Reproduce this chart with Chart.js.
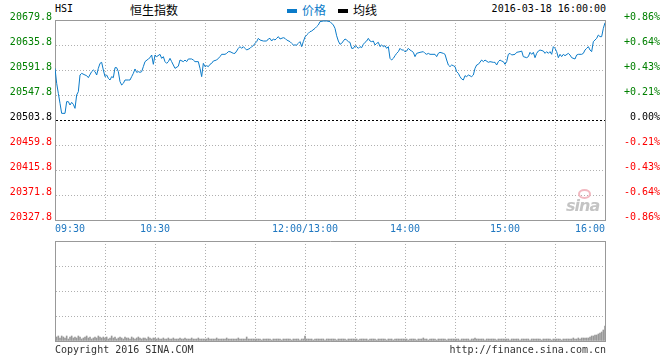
<!DOCTYPE html>
<html>
<head>
<meta charset="utf-8">
<script src="https://cdn.jsdelivr.net/npm/chart.js@4.4.1/dist/chart.umd.min.js"></script>
<style>
    body { margin: 0; background: #fff; width: 660px; height: 360px; position: relative; overflow: hidden; }
    canvas { position: absolute; left: 0; }
    .txt { position: absolute; font: 10px/12px "DejaVu Sans Mono", monospace; color: #000; white-space: nowrap; }
    .cjk { position: absolute; font: 12px/14px "Noto Sans CJK SC", sans-serif; white-space: nowrap; }
    .key { position: absolute; width: 10px; height: 4px; }
</style>
</head>
<body>
<div class="txt" style="left:55px; top:3px;">HSI</div>
<div class="cjk" style="left:130px; top:3px;">恒生指数</div>
<div class="key" style="left:287px; top:9px; background:#0b7bc9;"></div>
<div class="cjk" style="left:302px; top:3px; color:#0b7bc9;">价格</div>
<div class="key" style="left:338px; top:9px; background:#000;"></div>
<div class="cjk" style="left:353px; top:3px;">均线</div>
<div class="txt" style="right:54px; top:3px;">2016-03-18 16:00:00</div>

<canvas id="price_chart" width="660" height="240" style="top:0;"></canvas>
<canvas id="volume_chart" width="660" height="110" style="top:236px;"></canvas>

<div style="position:absolute; left:578px; top:189px; width:13px; height:10px; border-radius:50%; border:2px solid #f2b8c0; box-sizing:border-box;"></div>
<div style="position:absolute; left:566px; top:198px; font:italic bold 16px/16px 'DejaVu Sans', sans-serif; color:#c4c4c4; letter-spacing:-1px;">sina</div>

<div class="txt" style="left:55px; top:344px; color:#333;">Copyright 2016 SINA.COM</div>
<div class="txt" style="right:54px; top:344px; color:#333;">http://finance.sina.com.cn</div>

<script>
const prevClose = 20503.8;
const priceTicks = [20327.8, 20371.8, 20415.8, 20459.8, 20503.8, 20547.8, 20591.8, 20635.8, 20679.8];
const volumeTicks = [0, 25, 50, 75, 100];
const gridMinutes = [0, 30, 60, 90, 120, 150, 180, 210, 240, 270, 300, 330];
const timeTicks = [0, 60, 150, 210, 270, 330];
const timeLabels = ["09:30", "10:30", "12:00/13:00", "14:00", "15:00", "16:00"];

// minutes after 09:30, lunch break removed (150 = 12:00/13:00)
const minutes = [
    0, 1, 2, 3, 4, 6, 7, 8, 9, 10,
    11, 12, 13, 14, 15, 16, 18, 19, 20, 22,
    23, 24, 25, 26, 27, 28, 29, 30, 31, 32,
    33, 34, 35, 36, 37, 38, 39, 40, 41, 42,
    44, 45, 46, 47, 48, 49, 50, 51, 52, 53,
    54, 56, 57, 58, 59, 60, 61, 63, 64, 65,
    66, 67, 68, 69, 70, 71, 72, 74, 75, 77,
    78, 79, 80, 82, 83, 84, 86, 87, 88, 89,
    90, 91, 92, 93, 94, 95, 97, 99, 100, 102,
    103, 104, 105, 107, 108, 109, 110, 111, 112, 113,
    114, 115, 117, 118, 119, 120, 121, 122, 123, 125,
    127, 128, 129, 130, 131, 132, 133, 134, 135, 137,
    138, 139, 141, 142, 143, 145, 146, 147, 148, 149,
    150, 151, 152, 153, 154, 156, 157, 158, 159, 161,
    163, 165, 167, 168, 169, 170, 171, 172, 173, 174,
    175, 176, 177, 178, 179, 180, 181, 182, 183, 184,
    185, 186, 187, 188, 189, 190, 191, 192, 193, 194,
    195, 196, 197, 198, 199, 200, 201, 202, 203, 204,
    205, 206, 207, 208, 209, 210, 211, 212, 213, 214,
    215, 216, 217, 219, 221, 222, 223, 224, 225, 228,
    229, 230, 231, 233, 234, 235, 236, 237, 238, 239,
    240, 241, 242, 243, 244, 245, 246, 247, 248, 250,
    251, 252, 253, 254, 256, 257, 258, 260, 261, 263,
    264, 265, 266, 267, 268, 269, 270, 271, 272, 273,
    274, 276, 277, 279, 280, 281, 283, 284, 285, 286,
    287, 288, 289, 290, 291, 293, 294, 295, 296, 297,
    298, 299, 300, 301, 302, 303, 304, 305, 306, 308,
    309, 310, 312, 313, 314, 316, 317, 318, 319, 320,
    321, 322, 323, 324, 325, 326, 327, 328, 329, 330
];
const prices = [
    20594.7, 20568.3, 20550.7, 20533.1, 20515.5, 20515.5, 20536.1, 20536.1, 20530.2, 20534.9,
    20531.4, 20524.3, 20547.8, 20553.7, 20583.0, 20585.9, 20583.0, 20581.8, 20578.3, 20588.9,
    20591.8, 20588.9, 20583.0, 20594.7, 20603.5, 20605.3, 20591.8, 20580.1, 20583.0, 20577.1,
    20574.2, 20580.1, 20578.3, 20595.9, 20595.9, 20588.9, 20571.3, 20565.4, 20568.3, 20574.2,
    20574.2, 20574.2, 20580.1, 20585.9, 20593.6, 20587.7, 20588.9, 20587.7, 20588.9, 20597.7,
    20606.5, 20611.2, 20613.5, 20618.2, 20601.8, 20618.2, 20615.3, 20619.4, 20612.3, 20615.3,
    20606.5, 20603.5, 20606.5, 20612.3, 20606.5, 20600.6, 20594.7, 20598.5, 20609.4, 20606.5,
    20609.4, 20606.5, 20611.2, 20611.2, 20609.4, 20606.5, 20606.5, 20594.7, 20580.1, 20603.5,
    20597.7, 20599.4, 20597.7, 20601.8, 20603.5, 20607.6, 20609.4, 20615.3, 20619.4, 20619.4,
    20621.1, 20624.1, 20624.1, 20621.1, 20621.1, 20625.2, 20629.9, 20632.9, 20629.9, 20632.9,
    20629.9, 20627.0, 20629.9, 20632.9, 20634.6, 20638.7, 20641.7, 20647.5, 20644.6, 20642.8,
    20642.8, 20646.4, 20647.5, 20642.8, 20646.4, 20644.6, 20647.5, 20650.5, 20646.4, 20648.7,
    20647.5, 20644.6, 20641.7, 20638.7, 20635.8, 20635.8, 20638.7, 20641.7, 20632.9, 20641.7,
    20650.0, 20653.4, 20656.3, 20659.3, 20660.4, 20665.1, 20668.1, 20671.0, 20676.9, 20678.0,
    20678.0, 20676.9, 20671.0, 20665.1, 20652.0, 20642.8, 20637.0, 20638.7, 20642.8, 20646.4,
    20644.6, 20641.7, 20640.5, 20629.9, 20629.9, 20634.6, 20632.9, 20629.9, 20632.9, 20631.1,
    20637.0, 20640.5, 20642.8, 20647.5, 20642.8, 20641.7, 20642.8, 20635.8, 20638.7, 20640.5,
    20632.9, 20635.8, 20632.9, 20634.6, 20629.9, 20632.9, 20612.3, 20609.4, 20612.3, 20617.0,
    20621.1, 20624.1, 20629.9, 20627.0, 20627.0, 20624.1, 20625.2, 20629.9, 20627.0, 20625.2,
    20622.9, 20615.3, 20621.1, 20622.9, 20624.1, 20621.1, 20619.4, 20621.1, 20619.4, 20619.4,
    20615.3, 20621.1, 20622.9, 20621.1, 20619.4, 20609.4, 20600.6, 20597.7, 20600.6, 20599.4,
    20597.7, 20588.9, 20585.9, 20580.1, 20576.0, 20574.2, 20581.8, 20580.1, 20583.0, 20580.1,
    20583.0, 20594.7, 20600.6, 20601.8, 20609.4, 20606.5, 20609.4, 20605.3, 20606.5, 20605.3,
    20605.3, 20600.6, 20606.5, 20609.4, 20607.6, 20606.5, 20601.8, 20606.5, 20619.4, 20621.1,
    20618.2, 20619.4, 20622.9, 20624.1, 20625.2, 20615.3, 20613.5, 20615.3, 20622.9, 20619.4,
    20622.9, 20613.5, 20621.1, 20625.2, 20627.0, 20625.2, 20621.1, 20624.1, 20621.1, 20624.1,
    20619.4, 20632.9, 20629.9, 20624.1, 20613.5, 20619.4, 20615.3, 20619.4, 20617.0, 20621.1,
    20618.2, 20613.5, 20611.2, 20618.2, 20619.4, 20619.4, 20621.1, 20627.0, 20629.9, 20632.9,
    20627.0, 20624.1, 20641.7, 20644.6, 20647.5, 20653.4, 20650.5, 20650.5, 20665.1, 20675.0
];

// one bar per minute, 0..330
const volumes = [
    6, 4, 5, 3, 5, 4, 3, 5, 2, 4, 5, 3, 4, 3, 5, 4, 2, 3, 4, 5, 3, 4, 2, 3, 4, 3, 5, 4, 3, 4,
    3, 4, 2, 3, 5, 3, 4, 2, 3, 4, 3, 2, 4, 3, 3, 2, 4, 3, 2, 3, 4, 3, 2, 3, 3, 2, 4, 3, 2, 3,
    3, 2, 3, 2, 2, 3, 2, 2, 3, 2, 2, 3, 2, 2, 2, 3, 2, 2, 3, 2, 2, 2, 3, 2, 2, 2, 3, 2, 2, 2,
    2, 2, 3, 2, 2, 2, 2, 3, 2, 2, 2, 2, 2, 3, 2, 2, 2, 2, 2, 2, 3, 2, 2, 2, 2, 4, 2, 2, 2, 2,
    2, 2, 2, 2, 1, 2, 2, 2, 2, 2, 1, 2, 2, 2, 2, 2, 1, 2, 2, 2, 2, 2, 1, 2, 2, 2, 2, 1, 2, 2,
    5, 2, 2, 2, 2, 1, 2, 2, 2, 2, 2, 2, 1, 2, 2, 2, 2, 2, 2, 1, 2, 2, 2, 2, 2, 1, 2, 2, 2, 2,
    2, 2, 1, 2, 2, 2, 2, 2, 1, 2, 2, 2, 2, 1, 2, 2, 2, 2, 2, 1, 2, 2, 2, 1, 2, 2, 2, 2, 2, 2,
    2, 2, 1, 2, 2, 2, 2, 1, 2, 2, 2, 3, 2, 2, 1, 2, 2, 2, 2, 1, 2, 2, 2, 2, 2, 1, 2, 2, 2, 2,
    2, 2, 2, 1, 2, 2, 2, 2, 2, 1, 2, 2, 3, 2, 2, 2, 2, 2, 1, 2, 2, 2, 2, 2, 2, 1, 2, 2, 2, 2,
    2, 2, 2, 1, 2, 2, 2, 2, 2, 1, 2, 2, 2, 2, 2, 1, 2, 2, 2, 2, 2, 2, 1, 2, 2, 2, 2, 2, 1, 2,
    2, 2, 2, 2, 1, 2, 2, 2, 2, 2, 2, 3, 2, 2, 3, 2, 3, 3, 3, 3, 3, 4, 5, 5, 6, 6, 7, 8, 9, 11, 15
];

const monoFont = { family: "DejaVu Sans Mono", size: 10 };
const gridGray = "#b0b0b0";
const borderGray = "#999999";

function isPrev(v) {
    return Math.abs(v - prevClose) < 0.01;
}
function priceColor(v) {
    if (isPrev(v)) return "#000000";
    return v > prevClose ? "#008000" : "#ff0000";
}
function setTicks(list) {
    return function(scale) {
        scale.ticks = list.map(v => ({ value: v }));
    };
}
function fixWidth(w) {
    return function(scale) { scale.width = w; };
}
function fixHeight(h) {
    return function(scale) { scale.height = h; };
}
function edgeLine(ctx, count) {
    return ctx.index === 0 || ctx.index === count - 1;
}

new Chart(document.getElementById("price_chart").getContext("2d"), {
    type: "line",
    data: {
        datasets: [{
            label: "价格",
            data: minutes.map((m, i) => ({ x: m, y: prices[i] })),
            borderColor: "#0b7bc9",
            borderWidth: 1,
            pointRadius: 0,
            tension: 0,
            fill: false
        }]
    },
    options: {
        responsive: false,
        devicePixelRatio: 1,
        animation: false,
        layout: { padding: { top: 20, left: 0, right: 0, bottom: 0 } },
        plugins: { legend: { display: false }, tooltip: { enabled: false } },
        scales: {
            x: {
                type: "linear",
                min: 0,
                max: 330,
                afterBuildTicks: setTicks(gridMinutes),
                afterFit: fixHeight(20),
                grid: {
                    offset: false,
                    drawTicks: false,
                    color: ctx => edgeLine(ctx, gridMinutes.length) ? borderGray : gridGray
                },
                border: {
                    color: borderGray,
                    dash: ctx => (ctx.tick && !edgeLine(ctx, gridMinutes.length)) ? [1, 2] : []
                },
                ticks: {
                    autoSkip: false,
                    maxRotation: 0,
                    align: "inner",
                    padding: 3,
                    font: monoFont,
                    color: "#1f77c0",
                    callback: v => {
                        const i = timeTicks.indexOf(v);
                        return i >= 0 ? timeLabels[i] : "";
                    }
                }
            },
            y: {
                type: "linear",
                position: "left",
                min: priceTicks[0],
                max: priceTicks[priceTicks.length - 1],
                afterBuildTicks: setTicks(priceTicks),
                afterFit: fixWidth(55),
                grid: {
                    drawTicks: false,
                    color: ctx => {
                        if (ctx.tick && isPrev(ctx.tick.value)) return "#000000";
                        return edgeLine(ctx, priceTicks.length) ? borderGray : gridGray;
                    }
                },
                border: {
                    color: borderGray,
                    dash: ctx => {
                        if (!ctx.tick || edgeLine(ctx, priceTicks.length)) return [];
                        return isPrev(ctx.tick.value) ? [2, 2] : [1, 2];
                    }
                },
                ticks: {
                    padding: 3,
                    labelOffset: -3,
                    font: monoFont,
                    color: ctx => priceColor(ctx.tick.value),
                    callback: v => v.toFixed(1)
                }
            },
            y2: {
                type: "linear",
                position: "right",
                min: priceTicks[0],
                max: priceTicks[priceTicks.length - 1],
                afterBuildTicks: setTicks(priceTicks),
                afterFit: fixWidth(55),
                grid: { display: false, drawTicks: false },
                border: { color: borderGray },
                ticks: {
                    padding: 2,
                    crossAlign: "far",
                    labelOffset: -3,
                    font: monoFont,
                    color: ctx => priceColor(ctx.tick.value),
                    callback: v => {
                        if (isPrev(v)) return "0.00%";
                        const pct = (v - prevClose) / prevClose * 100;
                        return (pct > 0 ? "+" : "") + pct.toFixed(2) + "%";
                    }
                }
            }
        }
    }
});

new Chart(document.getElementById("volume_chart").getContext("2d"), {
    type: "bar",
    data: {
        datasets: [{
            label: "成交量",
            data: volumes.map((v, i) => ({ x: i, y: v })),
            backgroundColor: "#999999",
            barThickness: 1
        }]
    },
    options: {
        responsive: false,
        devicePixelRatio: 1,
        animation: false,
        layout: { padding: { top: 5, left: 0, right: 0, bottom: 0 } },
        plugins: { legend: { display: false }, tooltip: { enabled: false } },
        scales: {
            x: {
                type: "linear",
                min: 0,
                max: 330,
                offset: false,
                afterBuildTicks: setTicks(gridMinutes),
                afterFit: fixHeight(5),
                grid: {
                    offset: false,
                    drawTicks: false,
                    color: ctx => edgeLine(ctx, gridMinutes.length) ? borderGray : gridGray
                },
                border: {
                    color: borderGray,
                    dash: ctx => (ctx.tick && !edgeLine(ctx, gridMinutes.length)) ? [1, 2] : []
                },
                ticks: { display: false }
            },
            y: {
                type: "linear",
                position: "left",
                min: 0,
                max: 100,
                afterBuildTicks: setTicks(volumeTicks),
                afterFit: fixWidth(55),
                grid: {
                    drawTicks: false,
                    color: ctx => edgeLine(ctx, volumeTicks.length) ? borderGray : gridGray
                },
                border: {
                    color: borderGray,
                    dash: ctx => (ctx.tick && !edgeLine(ctx, volumeTicks.length)) ? [1, 2] : []
                },
                ticks: { display: false }
            },
            y2: {
                type: "linear",
                position: "right",
                min: 0,
                max: 100,
                afterFit: fixWidth(55),
                grid: { display: false, drawTicks: false },
                border: { color: borderGray },
                ticks: { display: false }
            }
        }
    }
});
</script>
</body>
</html>
